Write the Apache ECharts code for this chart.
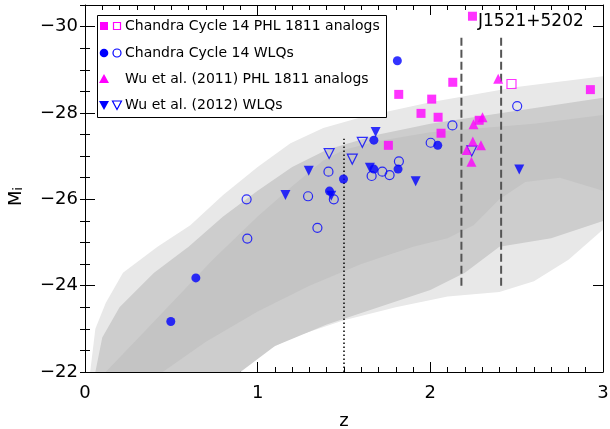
<!DOCTYPE html>
<html><head><meta charset="utf-8">
<script src="https://cdn.jsdelivr.net/npm/echarts@6/dist/echarts.min.js"></script>
<style>html,body{margin:0;padding:0;background:#fff}#c{width:610px;height:429px}</style>
</head><body><div id="c"></div>
<script>
// ---------- data ----------
const xTicks = [0, 1, 2, 3];
const yTicks = [-30, -28, -26, -24, -22];

const chandraPHL = [[2.244,-30.24],[2.13,-28.71],[1.817,-28.43],[2.008,-28.32],[1.946,-27.99],[2.045,-27.90],[2.927,-28.54],[2.062,-27.53],[1.757,-27.25],[2.283,-27.83]];
const chandraPHLOpen = [[2.47,-28.67]];
const chandraWLQ = [[1.809,-29.21],[0.642,-24.18],[0.497,-23.17],[1.497,-26.47],[1.416,-26.19],[1.673,-27.37],[1.813,-26.70],[1.673,-26.70],[2.043,-27.25]];
const chandraWLQOpen = [[2.503,-28.16],[2.128,-27.71],[2.002,-27.31],[1.818,-26.88],[1.722,-26.64],[1.764,-26.56],[1.66,-26.54],[1.41,-26.64],[1.292,-26.07],[0.936,-26.00],[0.94,-25.09],[1.346,-25.34],[1.441,-26.0]];
const wu11PHL = [[2.302,-27.90],[2.25,-27.74],[2.246,-27.34],[2.293,-27.25],[2.211,-27.14],[2.238,-26.87],[2.393,-28.79]];
const wu12WLQ = [[1.296,-26.66],[1.161,-26.10],[1.426,-26.08],[1.683,-27.56],[1.65,-26.73],[1.915,-26.42],[2.515,-26.69]];
const wu12WLQOpen = [[1.414,-27.06],[1.606,-27.32],[1.548,-26.93],[2.24,-27.12]];

// reference lines
const dottedLine = [[1.5,-22.0],[1.5,-27.4]];
const dashLine1 = [[2.18,-24.0],[2.18,-29.8]];
const dashLine2 = [[2.41,-24.0],[2.41,-29.8]];

// SDSS quasar cloud outlines (z, M_i)
const outerUpper = [[0.03,-22.0],[0.06,-23.0],[0.12,-23.6],[0.22,-24.3],[0.42,-24.9],[0.61,-25.4],[0.8,-26.1],[1.0,-26.75],[1.19,-27.3],[1.38,-27.65],[1.6,-27.9],[2.0,-28.25],[2.5,-28.6],[3.0,-28.85]];
const outerLower = [[0.03,-22.0],[0.8,-22.0],[1.0,-22.4],[1.2,-22.8],[1.5,-23.2],[1.8,-23.5],[2.1,-23.75],[2.4,-23.85],[2.6,-24.1],[2.8,-24.6],[3.0,-25.3]];
const midUpper = [[0.06,-22.0],[0.1,-22.8],[0.2,-23.5],[0.4,-24.3],[0.6,-24.9],[0.8,-25.6],[1.0,-26.2],[1.2,-26.75],[1.4,-27.15],[1.7,-27.5],[2.0,-27.75],[2.5,-28.05],[3.0,-28.35]];
const midLower = [[0.06,-22.0],[0.9,-22.0],[1.1,-22.6],[1.4,-23.1],[1.7,-23.5],[2.0,-23.9],[2.2,-24.3],[2.4,-24.9],[2.7,-25.1],[3.0,-25.5]];
const coreUpper = [[0.12,-22.0],[0.36,-23.0],[0.55,-23.8],[0.74,-24.6],[1.0,-25.6],[1.2,-26.3],[1.38,-26.9],[1.5,-27.15],[1.7,-27.35],[2.0,-27.55],[2.3,-27.65],[2.6,-27.75],[3.0,-27.95]];
const coreLower = [[0.12,-22.0],[0.45,-22.0],[0.7,-22.7],[1.0,-23.4],[1.3,-24.0],[1.6,-24.5],[1.9,-24.9],[2.1,-25.1],[2.25,-25.4],[2.4,-26.0],[2.55,-26.4],[2.75,-26.5],[3.0,-26.2]];

// ---------- chart ----------
const MAG = '#ff00ff', BLUE = '#0000ff', FONT = 'DejaVu Sans';
const layers = [
  {up: outerUpper, lo: outerLower, color: '#e8e8e8'},
  {up: midUpper, lo: midLower, color: '#cdcdcd'},
  {up: coreUpper, lo: coreLower, color: '#c4c4c4'}
];
const chart = echarts.init(document.getElementById('c'), null, {renderer: 'canvas'});

function scat(name, data, symbol, filled, color, size, rot) {
  return {
    name, type: 'scatter', data, symbol, symbolSize: size, symbolRotate: rot || 0, z: 5,
    itemStyle: filled ? {color: color} : {color: 'rgba(0,0,0,0)', borderColor: color, borderWidth: 1.2},
    silent: true
  };
}
function vline(data, type, color, width) {
  return {type: 'line', data, symbol: 'none', z: 3, silent: true,
    lineStyle: {color, width, type}};
}
const tickColor = '#000';
function xAx(pos, labels) {
  return {
    type: 'value', min: 0, max: 3, interval: 1, position: pos,
    axisLine: {show: true, onZero: false, lineStyle: {color: tickColor, width: 1}},
    axisTick: {show: true, inside: true, length: 10, lineStyle: {color: tickColor}},
    minorTick: {show: true, splitNumber: 10, length: 5, lineStyle: {color: tickColor}},
    axisLabel: {show: labels, fontSize: 18, color: '#000', fontFamily: FONT, margin: 12},
    splitLine: {show: false}, minorSplitLine: {show: false},
    name: labels ? 'z' : '', nameLocation: 'middle', nameGap: 40,
    nameTextStyle: {fontSize: 18, color: '#000', fontFamily: FONT}
  };
}
function yMajor(pos, labels) {
  return {
    type: 'value', min: -30.5, max: -22, inverse: true, position: pos,
    axisLine: {show: true, onZero: false, lineStyle: {color: tickColor, width: 1}},
    axisTick: {show: true, inside: true, length: 10, customValues: yTicks, lineStyle: {color: tickColor}},
    axisLabel: {show: labels, customValues: yTicks, fontSize: 18, color: '#000', fontFamily: FONT, margin: 7,
      formatter: v => '\u2212' + Math.abs(v)},
    splitLine: {show: false},
    name: labels ? '{m|M}{s|i}' : '', nameLocation: 'middle', nameGap: 60, nameRotate: 90,
    nameTextStyle: {color: '#000', fontFamily: FONT, padding: [0, 16, 0, 0], rich: {
      m: {fontSize: 18, fontFamily: FONT, color: '#000'},
      s: {fontSize: 12, fontFamily: FONT, color: '#000', verticalAlign: 'bottom'}}}
  };
}
function yMinor(pos) {
  return {
    type: 'value', min: -30.5, max: -22, interval: 0.5, inverse: true, position: pos,
    axisLine: {show: false},
    axisTick: {show: true, inside: true, length: 5, lineStyle: {color: tickColor}},
    axisLabel: {show: false}, splitLine: {show: false}
  };
}

const legendRows = [26, 53, 79, 105];
const legendTexts = ['Chandra Cycle 14 PHL 1811 analogs', 'Chandra Cycle 14 WLQs', 'Wu et al. (2011) PHL 1811 analogs', 'Wu et al. (2012) WLQs'];
const gEls = [
  {type: 'rect', shape: {x: 97.5, y: 15.5, width: 289, height: 102}, style: {fill: '#fff', stroke: '#000', lineWidth: 1}, z: 100},
  {type: 'rect', shape: {x: 100, y: 22, width: 8, height: 8}, style: {fill: MAG}, z: 101},
  {type: 'rect', shape: {x: 113.5, y: 22.5, width: 7, height: 7}, style: {fill: 'none', stroke: MAG, lineWidth: 1.2}, z: 101},
  {type: 'circle', shape: {cx: 104, cy: 53, r: 4.3}, style: {fill: BLUE}, z: 101},
  {type: 'circle', shape: {cx: 117, cy: 53, r: 4}, style: {fill: 'none', stroke: BLUE, lineWidth: 1.2}, z: 101},
  {type: 'polygon', shape: {points: [[99, 83], [109, 83], [104, 74]]}, style: {fill: MAG}, z: 101},
  {type: 'polygon', shape: {points: [[99, 101], [109, 101], [104, 110]]}, style: {fill: BLUE}, z: 101},
  {type: 'polygon', shape: {points: [[112.5, 101], [121.5, 101], [117, 109.5]]}, style: {fill: 'none', stroke: BLUE, lineWidth: 1.2}, z: 101},
  {type: 'text', x: 478, y: 22, style: {text: 'J1521+5202', fontSize: 17, fontFamily: FONT, fill: '#000', verticalAlign: 'middle'}, z: 101}
];
legendTexts.forEach((t, i) => gEls.push({type: 'text', x: 125, y: legendRows[i],
  style: {text: t, fontSize: 14, fontFamily: FONT, fill: '#000', verticalAlign: 'middle'}, z: 101}));

const option = {
  animation: false,
  backgroundColor: '#fff',
  grid: {left: 85, right: 7, top: 5, bottom: 57, containLabel: false, outerBoundsMode: 'none'},
  xAxis: [xAx('bottom', true), xAx('top', false)],
  yAxis: [yMajor('left', true), yMinor('left'), yMajor('right', false), yMinor('right')],
  graphic: gEls,
  series: [
    {type: 'custom', z: 1, silent: true, clip: true,
      data: layers.map((l, i) => [i, -22]),
      renderItem: (params, api) => {
        const L = layers[params.dataIndex];
        const pts = L.up.concat(L.lo.slice().reverse()).map(p => api.coord(p));
        return {type: 'polygon', shape: {points: pts}, style: {fill: L.color}};
      }},
    vline(dottedLine, [1.5, 2.5], '#000', 1.5),
    vline(dashLine1, [8, 4], '#555', 2),
    vline(dashLine2, [8, 4], '#555', 2),
    scat('wu12', wu12WLQ, 'triangle', true, BLUE, 10, 180),
    scat('wu12o', wu12WLQOpen, 'triangle', false, BLUE, 10, 180),
    scat('wu11', wu11PHL, 'triangle', true, MAG, 10, 0),
    scat('cwlq', chandraWLQ, 'circle', true, BLUE, 9, 0),
    scat('cwlqo', chandraWLQOpen, 'circle', false, BLUE, 9, 0),
    scat('cphl', chandraPHL, 'rect', true, MAG, 9, 0),
    scat('cphlo', chandraPHLOpen, 'rect', false, MAG, 9, 0)
  ]
};
chart.setOption(option);
</script>
</body></html>
